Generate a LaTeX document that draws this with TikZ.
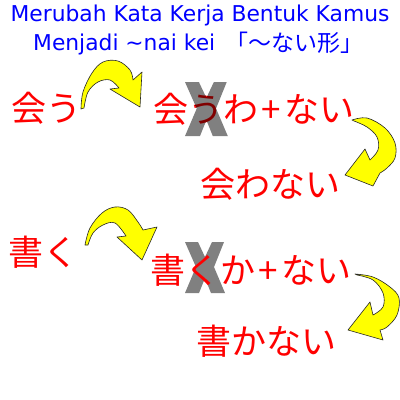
\documentclass[tikz,border=0pt]{standalone}
\usepackage{fontspec}
\newfontfamily\jp{Noto Sans CJK JP}
\newfontfamily\ttl{DejaVu Sans}
\definecolor{xgray}{RGB}{128,128,128}
\definecolor{ttlblue}{RGB}{0,0,255}
\definecolor{jred}{RGB}{255,0,0}
\definecolor{jdark}{RGB}{128,0,0}
\definecolor{ayel}{RGB}{255,255,0}
\tikzset{
  jtext/.style={font=\jp\fontsize{35}{35}\selectfont, text=jred, inner sep=0pt, anchor=west},
  ttext/.style={font=\ttl\fontsize{21.8}{21.8}\selectfont, text=ttlblue, inner sep=0pt},
  ctext/.style={font=\jp\fontsize{23}{23}\selectfont, text=ttlblue, inner sep=0pt},
  yarr/.style={fill=ayel, draw=black!85, line width=0.6pt, line join=round},
  xmark/.style={fill=xgray},
}
\newcommand\xpoly{(0,0) -- (13,0) -- (20,15) -- (27,0) -- (39,0) -- (29,25) -- (40,51) -- (26,51)
    -- (20,36) -- (14,51) -- (0,51) -- (11,25) -- cycle}
\newcommand\plusgap{\kern3pt+\kern4pt}
\begin{document}
\begin{tikzpicture}[x=1pt,y=-1pt]
\useasboundingbox (0,0) rectangle (400,400);
\fill[white] (0,0) rectangle (400,400);
% titles
\node[ttext, anchor=base] (t1) at (200,21.5) {Merubah Kata Kerja Bentuk Kamus};
\node[ttext, anchor=base west] (t2) at (33,50) {Menjadi \textasciitilde nai kei};
\node[ctext, anchor=base west] (t3) at (225,51) {「～ない形」};
% row 1
\node[jtext] (aUW) at (153,109) {会うわ\plusgap ない};
\fill[xmark, shift={(185,82)}, xscale=1.07, yscale=1.06] \xpoly;
\begin{scope}
  \clip[shift={(185,82)}, xscale=1.07, yscale=1.06] \xpoly;
  \node[jtext, text=jdark] (aUWd) at (153,109) {会うわ\plusgap ない};
\end{scope}
\node[jtext] (aU) at (11,108) {会う};
\node[jtext] (aW) at (200,184) {会わない};
% row 2
\fill[xmark, shift={(185,242)}] \xpoly;
\node[jtext] (kK) at (8,252) {書く};
\node[jtext] (kKK) at (150,270) {書くか\plusgap ない};
\node[jtext] (kKa) at (196,341) {書かない};
% arrows
\filldraw[yarr] (81,109) -- plot[smooth,tension=0.6] coordinates {(81,109) (83,92) (92,73) (103,62) (118,61) (130,70) (133,80)}
  -- (142,72) -- (140,107) -- (110,89)
  -- plot[smooth,tension=0.6] coordinates {(119,88) (110,80) (98,82) (88,92) (84,108)} -- cycle;
\filldraw[yarr] (352,120) -- plot[smooth,tension=0.6] coordinates {(352,120) (367,118) (385,128) (395,143) (395,158) (387,168) (380,173)}
  -- (373,186) -- (345,175) -- (365,149)
  -- plot[smooth,tension=0.6] coordinates {(370,160) (378,150) (377,137) (367,127) (354,121)} -- cycle;
\filldraw[yarr] (85,245) -- plot[smooth,tension=0.6] coordinates {(85,245) (90,228) (102,213) (115,207) (128,210) (138,222) (143,230)}
  -- (157,227) -- (142,260) -- (117,237)
  -- plot[smooth,tension=0.6] coordinates {(126,236) (115,223) (103,225) (93,233) (88,245)} -- cycle;
\filldraw[yarr] (355,274) -- plot[smooth,tension=0.6] coordinates {(355,274) (373,277) (390,287) (399,298) (397,315) (387,327) (380,330)}
  -- (383,340) -- (348,330) -- (370,302)
  -- plot[smooth,tension=0.6] coordinates {(373,315) (383,307) (383,293) (373,280) (357,275)} -- cycle;
\end{tikzpicture}
\end{document}
